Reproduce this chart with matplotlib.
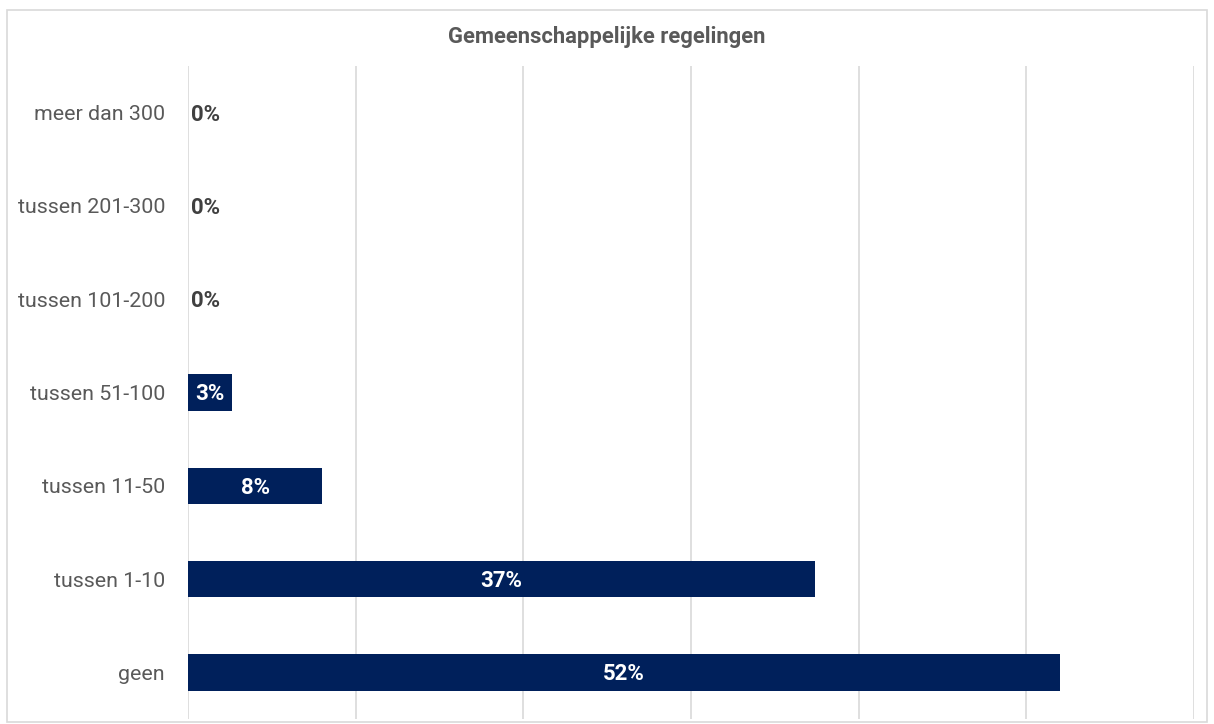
import matplotlib
matplotlib.use("Agg")
import matplotlib.pyplot as plt
from matplotlib.patches import Rectangle

categories = ["geen", "tussen 1-10", "tussen 11-50", "tussen 51-100",
              "tussen 101-200", "tussen 201-300", "meer dan 300"]
values = [52.0, 37.4, 8.0, 2.6, 0.0, 0.0, 0.0]
labels = ["52%", "37%", "8%", "3%", "0%", "0%", "0%"]
title = "Gemeenschappelijke regelingen"

plt.rcParams['font.family'] = ['Roboto', 'DejaVu Sans']

W, H = 1214, 724
fig = plt.figure(figsize=(W/100, H/100), dpi=100)
ax = fig.add_axes([188/W, 1 - 719/H, (1194-188)/W, (719-66)/H])

bar_color = "#00205B"
ypos = list(range(len(categories)))
ax.barh(ypos, values, height=0.39, color=bar_color, zorder=3)
ax.set_xlim(0, 60)
ax.set_ylim(-0.5, len(categories) - 0.5)
ax.set_xticks(range(0, 61, 10))
ax.set_xticklabels([])
ax.tick_params(axis='x', length=0)
ax.tick_params(axis='y', length=0, pad=16.5, labelsize=15.4, labelcolor="#595959")
ax.set_yticks(ypos)
ax.set_yticklabels(categories)
ax.grid(axis='x', color="#D9D9D9", linewidth=1.2, zorder=0)
for s in ax.spines.values():
    s.set_visible(False)

for y, v, lab in zip(ypos, values, labels):
    if v > 1:
        ax.text(v / 2, y - 0.02, lab, ha='center', va='center', color='white',
                fontsize=16, fontweight='bold', zorder=4)
    else:
        ax.text(0.15, y - 0.02, lab, ha='left', va='center', color='#404040',
                fontsize=16, fontweight='bold', zorder=4)

fig.text(607/W, 1 - 37/H, title, ha='center', va='center', fontsize=15.8,
         fontweight='bold', color='#595959')

fig.patches.append(Rectangle((7/W, 1 - 722/H), (1207-7)/W, (722-10)/H,
                             transform=fig.transFigure, fill=False,
                             edgecolor="#D9D9D9", linewidth=1.2))

fig.savefig("out.png", dpi=100, facecolor='white')
